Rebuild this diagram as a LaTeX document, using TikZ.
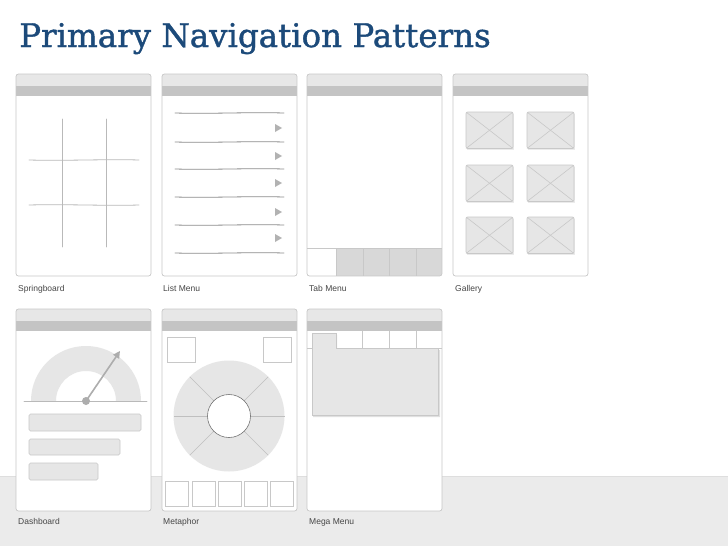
\documentclass[tikz,border=0pt]{standalone}
\usepackage{fontspec}
\usetikzlibrary{arrows.meta}
\newfontfamily\titlefont[FakeBold=1.2]{DejaVu Serif}
\newfontfamily\labelfont{Liberation Sans}
\definecolor{titleblue}{RGB}{28,74,122}
\definecolor{bandgray}{RGB}{235,235,235}
\definecolor{framegray}{RGB}{200,200,200}
\definecolor{headlight}{RGB}{231,231,231}
\definecolor{headdark}{RGB}{196,196,196}
\definecolor{sketch}{RGB}{185,185,185}
\definecolor{boxfill}{RGB}{230,230,230}
\definecolor{boxline}{RGB}{200,200,200}
\definecolor{tabgray}{RGB}{216,216,216}
\definecolor{labelgray}{RGB}{70,70,70}
\tikzset{
  phone/.style={draw=framegray, fill=white, line width=0.7pt, rounded corners=2.5pt},
  sketchline/.style={draw=sketch, line width=0.8pt, line cap=round},
  wbox/.style={draw=boxline, fill=boxfill, line width=0.6pt, rounded corners=1.5pt},
  hollow/.style={draw=boxline, fill=white, line width=0.6pt},
  lbl/.style={anchor=base west, inner sep=0pt, text=labelgray, font=\labelfont\fontsize{8.5}{10}\selectfont}
}
\newcommand{\PhoneFrame}{%
  \begin{scope}
    \clip[rounded corners=2.5pt] (0,0) rectangle (135,202);
    \fill[white] (0,0) rectangle (135,202);
    \fill[headlight] (0,0) rectangle (135,12);
    \fill[headdark] (0,12) rectangle (135,22);
  \end{scope}}
\newcommand{\PhoneBorder}{\draw[phone, fill=none] (0,0) rectangle (135,202);}
\begin{document}
\begin{tikzpicture}[x=1pt,y=-1pt]
\useasboundingbox (0,0) rectangle (728,546);
\fill[white] (0,0) rectangle (728,476);
\fill[bandgray] (0,476) rectangle (728,546);
\draw[framegray!60, line width=0.5pt] (0,476) -- (728,476);

\node[anchor=base west, inner sep=0pt, text=titleblue, font=\titlefont\fontsize{32.5}{36}\selectfont] (title) at (19,47) {Primary Navigation Patterns};

% ---------- Springboard
\begin{scope}[shift={(16,74)}]
  \PhoneFrame
  \draw[sketchline] (46,45) -- (46,173);
  \draw[sketchline] (90,45) -- (90,173);
  \draw[sketchline] (13,86) .. controls (50,87) and (90,85) .. (123,86);
  \draw[sketchline] (13,131) .. controls (50,130) and (90,132) .. (123,131);
  \PhoneBorder
\end{scope}
\node[lbl] (l1) at (18,291) {Springboard};

% ---------- List Menu
\begin{scope}[shift={(162,74)}]
  \PhoneFrame
  \foreach \y in {39,68,95,123,151,179}
    \draw[sketchline, draw=black!45, line width=0.8pt] (13,\y) .. controls (50,\y+1) and (85,\y-1) .. (122,\y);
  \foreach \y in {54,82,109,138,164}
    \fill[black!30] (113,\y-4) -- (120,\y) -- (113,\y+4) -- cycle;
  \PhoneBorder
\end{scope}
\node[lbl] (l2) at (163,291) {List Menu};

% ---------- Tab Menu
\begin{scope}[shift={(307,74)}]
  \PhoneFrame
  \begin{scope}
    \clip[rounded corners=2.5pt] (0,0) rectangle (135,202);
    \fill[tabgray] (29,174) rectangle (135,202);
    \draw[boxline, line width=0.6pt] (0,174) -- (135,174);
    \foreach \x in {29,56,82,109}
      \draw[boxline, line width=0.6pt] (\x,174) -- (\x,202);
  \end{scope}
  \PhoneBorder
\end{scope}
\node[lbl] (l3) at (309,291) {Tab Menu};

% ---------- Gallery
\begin{scope}[shift={(453,74)}]
  \PhoneFrame
  \foreach \x in {13,74}
    \foreach \y in {38,91,143} {
      \fill[black!8] (\x+1,\y+1.5) rectangle (\x+48,\y+38);
      \draw[wbox] (\x,\y) rectangle (\x+47,\y+36.5);
      \draw[boxline, line width=0.6pt] (\x,\y) -- (\x+47,\y+36.5);
      \draw[boxline, line width=0.6pt] (\x,\y+36.5) -- (\x+47,\y);
    }
  \PhoneBorder
\end{scope}
\node[lbl] (l4) at (455,291) {Gallery};

% ---------- Dashboard
\begin{scope}[shift={(16,309)}]
  \PhoneFrame
  \fill[boxfill] (70,92) ++(180:55) arc[start angle=180, end angle=360, radius=55]
        -- ++(-25,0) arc[start angle=360, end angle=180, radius=30] -- cycle;
  \draw[sketchline, line width=0.7pt] (8,92) -- (131,92);
  \draw[black!32, line width=1.6pt, -{Triangle[length=7pt,width=7pt]}] (70,92) -- (104,42);
  \fill[black!32] (70,92) circle[radius=4];
  \draw[wbox] (13,105) rectangle (125,122);
  \draw[wbox] (13,130) rectangle (104,146);
  \draw[wbox] (13,154) rectangle (82,171);
  \PhoneBorder
\end{scope}
\node[lbl] (l5) at (18,524) {Dashboard};

% ---------- Metaphor
\begin{scope}[shift={(162,309)}]
  \PhoneFrame
  \draw[hollow] (5,28) rectangle (33,53);
  \draw[hollow] (101,28) rectangle (129,53);
  \fill[boxfill] (67,107) circle[radius=55.5];
  \foreach \a in {0,45,135,180,225,315}
    \draw[black!25, line width=0.6pt] (67,107) ++(\a:21.5) -- ++(\a:34);
  \draw[black!55, fill=white, line width=0.6pt] (67,107) circle[radius=21.5];
  \foreach \x in {3,30,56,82,108}
    \draw[hollow] (\x,172) rectangle (\x+23.5,197);
  \PhoneBorder
\end{scope}
\node[lbl] (l6) at (163,524) {Metaphor};

% ---------- Mega Menu
\begin{scope}[shift={(307,309)}]
  \PhoneFrame
  \begin{scope}
    \clip[rounded corners=2.5pt] (0,0) rectangle (135,202);
    \draw[boxline, line width=0.6pt] (29,39) -- (135,39);
    \draw[boxline, line width=0.6pt] (0,39) -- (5,39);
    \foreach \x in {55,82,109}
      \draw[boxline, line width=0.6pt] (\x,22) -- (\x,39);
  \end{scope}
  \fill[black!12] (6,26) -- (30,26) -- (30,41) -- (133,41) -- (133,108) -- (6,108) -- cycle;
  \draw[boxline, fill=boxfill, line width=0.6pt] (5,24) -- (29,24) -- (29,39) -- (131,39) -- (131,106) -- (5,106) -- cycle;
  \PhoneBorder
\end{scope}
\node[lbl] (l7) at (309,524) {Mega Menu};
\end{tikzpicture}
\end{document}
